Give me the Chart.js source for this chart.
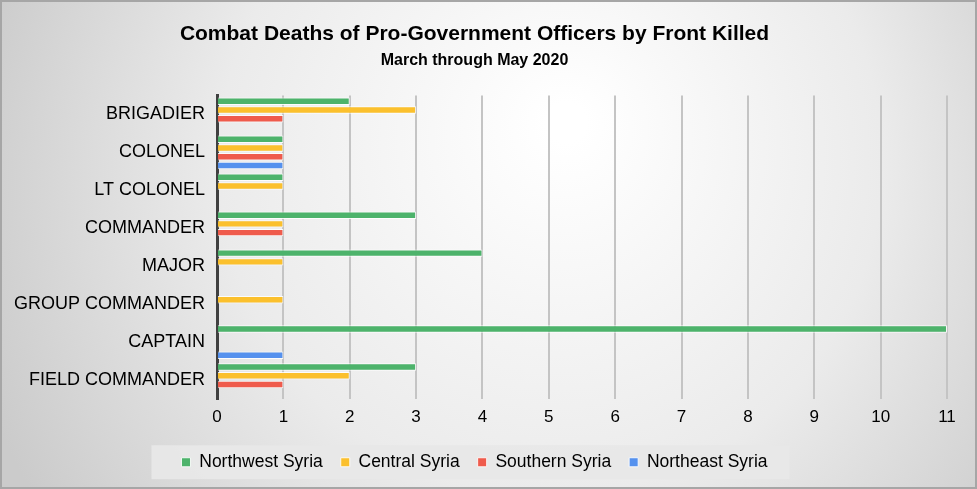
<!DOCTYPE html>
<html>
<head>
<meta charset="utf-8">
<script src="https://cdn.jsdelivr.net/npm/chart.js@4/dist/chart.umd.min.js"></script>
<style>
  html, body { margin: 0; padding: 0; background: #fff; }
  #wrap { width: 977px; height: 489px; position: relative; }
</style>
</head>
<body>
<div id="wrap"><canvas id="chart"></canvas></div>
<script>
const ranks = ['BRIGADIER', 'COLONEL', 'LT COLONEL', 'COMMANDER', 'MAJOR', 'GROUP COMMANDER', 'CAPTAIN', 'FIELD COMMANDER']
const northwest = [2, 1, 1, 3, 4, 0, 11, 3]
const central   = [3, 1, 1, 1, 1, 1, 0, 2]
const southern  = [1, 1, 0, 1, 0, 0, 0, 1]
const northeast = [0, 1, 0, 0, 0, 0, 1, 0]

const seriesNames  = ['Northwest Syria', 'Central Syria', 'Southern Syria', 'Northeast Syria']
const seriesColors = ['#4db36b', '#fbc02d', '#ef5b4c', '#5591ee']

// gray gradient panel + frame + legend strip
const backdrop = {
  id: 'backdrop',
  beforeDraw(chart) {
    const { ctx, width, height } = chart
    ctx.save()
    const g = ctx.createRadialGradient(width * 0.58, height * 0.25, 20, width * 0.55, height * 0.4, width * 0.6)
    g.addColorStop(0, '#ffffff')
    g.addColorStop(0.55, '#ebebeb')
    g.addColorStop(1, '#cbcbcb')
    ctx.fillStyle = g
    ctx.fillRect(0, 0, width, height)
    ctx.strokeStyle = '#a6a6a6'
    ctx.lineWidth = 2
    ctx.strokeRect(1, 1, width - 2, height - 2)
    const items = chart.legend?.legendHitBoxes || []
    if (items.length) {
      const l = Math.min(...items.map(b => b.left)) - 30
      const r = Math.max(...items.map(b => b.left + b.width)) + 22
      const mid = items[0].top + items[0].height / 2
      ctx.fillStyle = 'rgba(232,232,232,0.95)'
      ctx.fillRect(l, mid - 17, r - l, 34)
    }
    ctx.restore()
  }
}

const data = {
  labels: ranks,
  datasets: [northwest, central, southern, northeast].map((vals, i) => ({
    label: seriesNames[i],
    data: vals,
    backgroundColor: seriesColors[i],
    borderColor: 'rgba(255,255,255,0.85)',
    borderWidth: 1,
    barPercentage: 0.85,
    categoryPercentage: 0.92
  }))
}

new Chart(document.getElementById('chart'), {
  type: 'bar',
  data,
  plugins: [backdrop],
  options: {
    indexAxis: 'y',
    responsive: true,
    maintainAspectRatio: false,
    animation: false,
    layout: { padding: { left: 2, right: 30, top: 8, bottom: 8 } },
    scales: {
      x: {
        min: 0, max: 11,
        ticks: { stepSize: 1, color: '#000', padding: 8, font: { family: 'Liberation Sans', size: 17 } },
        grid: { color: '#c4c4c4', lineWidth: 2, drawTicks: false },
        border: { display: false }
      },
      y: {
        ticks: { color: '#000', padding: 12, font: { family: 'Liberation Sans', size: 18 } },
        grid: { display: false, drawTicks: false },
        border: { display: true, color: '#404040', width: 3 }
      }
    },
    plugins: {
      title: {
        display: true,
        text: 'Combat Deaths of Pro-Government Officers by Front Killed',
        color: '#000',
        font: { family: 'Liberation Sans', size: 21, weight: 'bold' },
        padding: { top: 14, bottom: 4 }
      },
      subtitle: {
        display: true,
        text: 'March through May 2020',
        color: '#000',
        font: { family: 'Liberation Sans', size: 16, weight: 'bold' },
        padding: { bottom: 25 }
      },
      legend: {
        position: 'bottom',
        labels: {
          color: '#000',
          boxWidth: 9, boxHeight: 9,
          padding: 18,
          font: { family: 'Liberation Sans', size: 17.5 }
        }
      },
      tooltip: { enabled: false }
    }
  }
})
</script>
</body>
</html>
